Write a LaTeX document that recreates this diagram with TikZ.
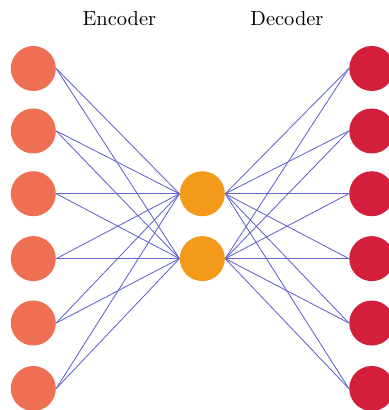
\documentclass[tikz,border=0pt]{standalone}
\usepackage{tikz}
\usetikzlibrary{calc}
\definecolor{encfill}{RGB}{238,111,82}
\definecolor{codefill}{RGB}{243,154,27}
\definecolor{decfill}{RGB}{212,31,60}
\definecolor{linkblue}{RGB}{100,100,205}
\tikzset{
  neuron/.style={circle, minimum size=0.774cm, inner sep=0pt},
  link/.style={linkblue, line width=0.42pt},
}

\begin{document}
\begin{tikzpicture}
                \useasboundingbox (0,0) rectangle (6.674,-7.052);

                \node[anchor=base] (enclabel) at (2.052, -0.43) {Encoder};
                \node[anchor=base] (declabel) at (4.936, -0.43) {Decoder};

                \node[neuron, fill=encfill] (in1) at (0.573, -1.178) {};
                \node[neuron, fill=encfill] (in2) at (0.573, -2.253) {};
                \node[neuron, fill=encfill] (in3) at (0.573, -3.332) {};
                \node[neuron, fill=encfill] (in4) at (0.573, -4.448) {};
                \node[neuron, fill=encfill] (in5) at (0.573, -5.556) {};
                \node[neuron, fill=encfill] (in6) at (0.573, -6.682) {};

                \node[neuron, fill=codefill] (code1) at (3.480, -3.332) {};
                \node[neuron, fill=codefill] (code2) at (3.480, -4.448) {};

                \node[neuron, fill=decfill] (out1) at (6.394, -1.178) {};
                \node[neuron, fill=decfill] (out2) at (6.394, -2.253) {};
                \node[neuron, fill=decfill] (out3) at (6.394, -3.332) {};
                \node[neuron, fill=decfill] (out4) at (6.394, -4.448) {};
                \node[neuron, fill=decfill] (out5) at (6.394, -5.556) {};
                \node[neuron, fill=decfill] (out6) at (6.394, -6.682) {};

                \foreach \i in {1,...,6}
                  \foreach \j in {1,2} {
                    \draw[link] (in\i.east) -- (code\j.west);
                    \draw[link] (code\j.east) -- (out\i.west);
                  }
            \end{tikzpicture}
\end{document}
